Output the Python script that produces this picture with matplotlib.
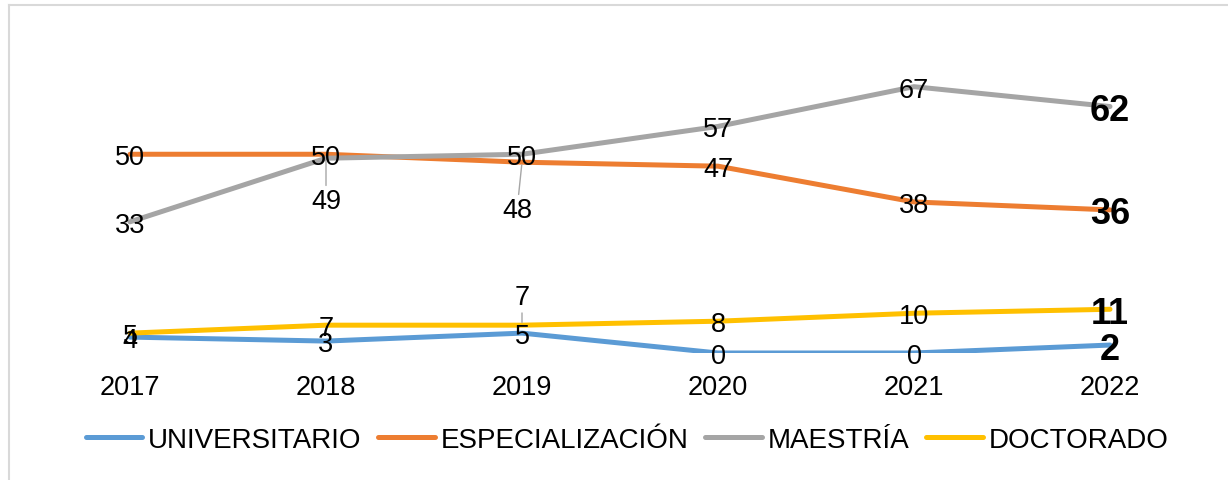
import matplotlib
matplotlib.use("Agg")
import matplotlib.pyplot as plt
from matplotlib.lines import Line2D

plt.rcParams['font.family'] = ['Liberation Sans', 'DejaVu Sans']

years = ["2017", "2018", "2019", "2020", "2021", "2022"]
universitario = [4, 3, 5, 0, 0, 2]
especializacion = [50, 50, 48, 47, 38, 36]
maestria = [33, 49, 50, 57, 67, 62]
doctorado = [5, 7, 7, 8, 10, 11]

series = [
    ("UNIVERSITARIO", universitario, "#5B9BD5"),
    ("ESPECIALIZACIÓN", especializacion, "#ED7D31"),
    ("MAESTRÍA", maestria, "#A5A5A5"),
    ("DOCTORADO", doctorado, "#FFC000"),
]

# label offsets in pixels (dx, dy) for labels moved off their point (leader lines)
offsets = {
    ("ESPECIALIZACIÓN", 2): (-5, -45),
    ("MAESTRÍA", 1): (0, -40),
    ("DOCTORADO", 2): (0, 31),
}

W, H = 1228, 481
fig = plt.figure(figsize=(W / 100, H / 100), dpi=100)
ax = fig.add_axes([32 / W, (H - 354) / H, 1176 / W, 318 / H])
x = list(range(len(years)))

handles = []
for name, vals, col in series:
    ln, = ax.plot(x, vals, color=col, lw=3.6, solid_capstyle='round',
                  solid_joinstyle='round', label=name, zorder=2)
    handles.append(ln)

fs = 19.5
for name, vals, col in series:
    for i, v in enumerate(vals):
        last = i == len(vals) - 1
        kw = dict(fontsize=26 if last else fs, fontweight='bold' if last else 'normal',
                  ha='center', va='center_baseline', color='black', zorder=3)
        if (name, i) in offsets:
            dx, dy = offsets[(name, i)]
            ax.annotate(str(v), xy=(i, v), xytext=(dx, dy), textcoords='offset pixels',
                        arrowprops=dict(arrowstyle='-', color='#A6A6A6', lw=1,
                                        shrinkA=0, shrinkB=2), **kw)
        else:
            ax.annotate(str(v), xy=(i, v), xytext=(0, 0), textcoords='offset pixels', **kw)

ax.set_xlim(-0.5, len(years) - 0.5)
ax.set_ylim(0, 80)
ax.set_xticks(x)
ax.set_xticklabels(years, fontsize=fs)
ax.tick_params(axis='x', length=0, pad=15)
ax.set_yticks([])
for s in ax.spines.values():
    s.set_visible(False)
ax.patch.set_alpha(0)

lfs = 20
leg = fig.legend(handles=handles, loc='center', bbox_to_anchor=(627 / W, 1 - 441 / H),
                 ncol=4, frameon=False, fontsize=lfs, handlelength=2.05,
                 handletextpad=0.2, columnspacing=0.6)
for lh in leg.get_lines():
    lh.set_linewidth(3.6)
    lh.set_solid_capstyle('round')

# outer light border (top and left)
fig.add_artist(Line2D([8.5 / W, 1], [1 - 5.5 / H, 1 - 5.5 / H], color='#D9D9D9', lw=1.5,
                      transform=fig.transFigure))
fig.add_artist(Line2D([8.5 / W, 8.5 / W], [0, 1 - 5.5 / H], color='#D9D9D9', lw=1.5,
                      transform=fig.transFigure))

fig.savefig("out.png", dpi=100, facecolor='white')
